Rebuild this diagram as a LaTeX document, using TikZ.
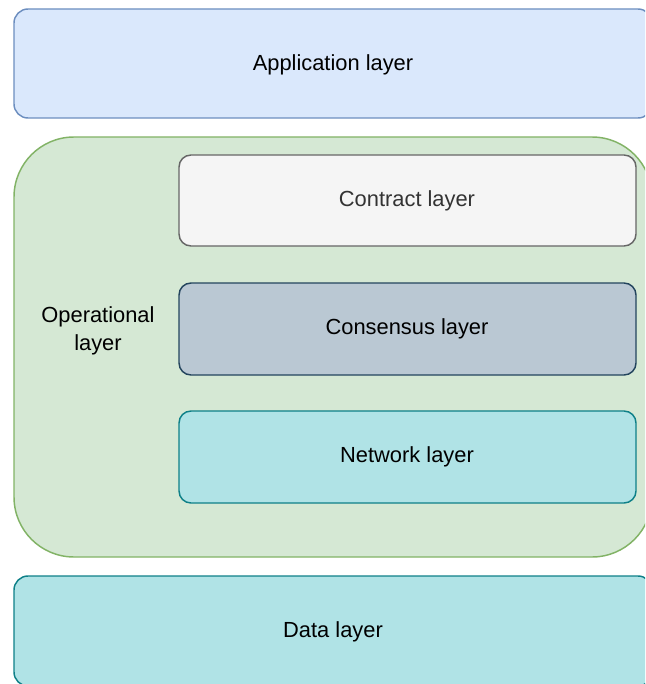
\documentclass[tikz,border=0pt]{standalone}
\usepackage{fontspec}
\setmainfont{Liberation Sans}
\definecolor{appfill}{HTML}{DAE8FC}
\definecolor{appline}{HTML}{6C8EBF}
\definecolor{opfill}{HTML}{D5E8D4}
\definecolor{opline}{HTML}{82B366}
\definecolor{ctfill}{HTML}{F5F5F5}
\definecolor{ctline}{HTML}{666666}
\definecolor{cttext}{HTML}{333333}
\definecolor{csfill}{HTML}{BAC8D3}
\definecolor{csline}{HTML}{23445D}
\definecolor{nwfill}{HTML}{B0E3E6}
\definecolor{nwline}{HTML}{0E8088}
\tikzset{
  layer/.style={line width=1.1pt},
  lbl/.style={font=\fontsize{16.4}{20}\selectfont, align=center, inner sep=0pt},
}
\begin{document}
\begin{tikzpicture}[x=0.75pt,y=-0.75pt]
\path[use as bounding box] (0,0) rectangle (645,684);
\clip (0,0) rectangle (645,684);
% outer layers
\draw[layer, fill=appfill, draw=appline, rounded corners=14*0.75pt] (14,9) rectangle (652,118);
\draw[layer, fill=opfill, draw=opline, rounded corners=60*0.75pt] (14,137) rectangle (652,557);
\draw[layer, fill=nwfill, draw=nwline, rounded corners=14*0.75pt] (14,576) rectangle (652,686);
% inner layers of the operational stack
\draw[layer, fill=ctfill, draw=ctline, rounded corners=12*0.75pt] (179,155) rectangle (636,246);
\draw[layer, fill=csfill, draw=csline, rounded corners=12*0.75pt] (179,283) rectangle (636,375);
\draw[layer, fill=nwfill, draw=nwline, rounded corners=12*0.75pt] (179,411) rectangle (636,503);
% labels
\node[lbl] (app) at (333,65) {Application layer};
\node[lbl] (op) at (98,331) {Operational\\[1pt]layer};
\node[lbl, text=cttext] (ct) at (407,201) {Contract layer};
\node[lbl] (cs) at (407,329) {Consensus layer};
\node[lbl] (nw) at (407,457) {Network layer};
\node[lbl] (data) at (333,632) {Data layer};
\end{tikzpicture}
\end{document}
